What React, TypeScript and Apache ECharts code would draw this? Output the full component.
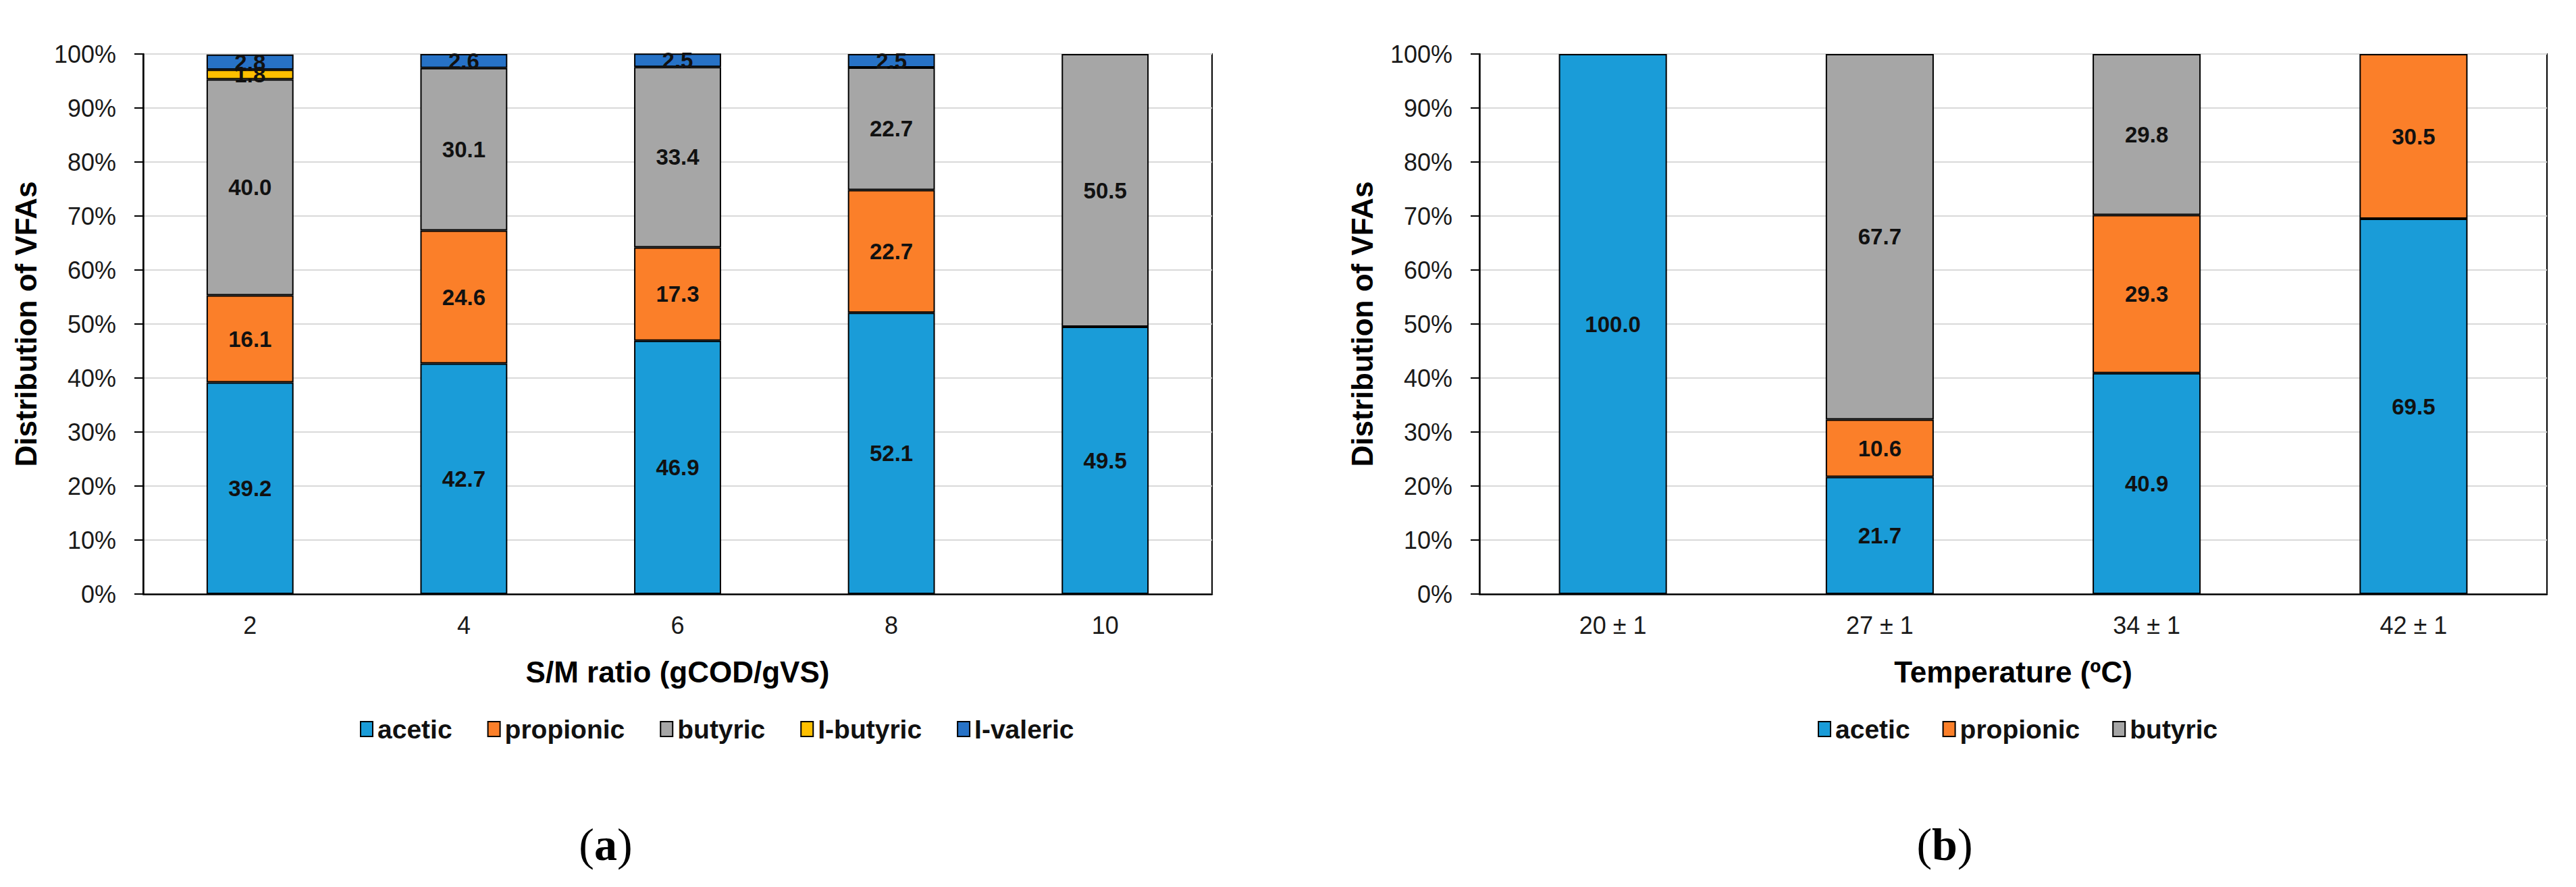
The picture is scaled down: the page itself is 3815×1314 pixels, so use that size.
import React, { useEffect, useRef } from "react";
import * as echarts from "echarts";

const categoriesA = ["2", "4", "6", "8", "10"];
const aceticA = [39.2, 42.7, 46.9, 52.1, 49.5];
const propionicA = [16.1, 24.6, 17.3, 22.7, 0];
const butyricA = [40.0, 30.1, 33.4, 22.7, 50.5];
const isoButyricA = [1.8, 0, 0, 0, 0];
const isoValericA = [2.8, 2.6, 2.5, 2.5, 0];

const categoriesB = ["20 ± 1", "27 ± 1", "34 ± 1", "42 ± 1"];
const aceticB = [100.0, 21.7, 40.9, 69.5];
const propionicB = [0, 10.6, 29.3, 30.5];
const butyricB = [0, 67.7, 29.8, 0];

const legendA = ["acetic", "propionic", "butyric", "I-butyric", "I-valeric"];
const legendB = ["acetic", "propionic", "butyric"];
const yTicks = [0, 10, 20, 30, 40, 50, 60, 70, 80, 90, 100];

const COLORS: Record<string, string> = {
  acetic: "#1A9CD8",
  propionic: "#FB7F29",
  butyric: "#A6A6A6",
  "I-butyric": "#FFC000",
  "I-valeric": "#2772C6",
};

const FONT = "'Liberation Sans', Arial, Helvetica, sans-serif";
const SERIF = "'Liberation Serif', 'DejaVu Serif', 'Times New Roman', serif";

function makeSeries(name: string, values: number[], axis: number, stack: string, barWidth: string) {
  return {
    type: "bar",
    name,
    stack,
    xAxisIndex: axis,
    yAxisIndex: axis,
    barWidth,
    data: values.map((v) => (v === 0 ? null : v)),
    itemStyle: { color: COLORS[name], borderColor: "#000", borderWidth: 2 },
    label: {
      show: true,
      position: "inside",
      formatter: (p: any) => (p.value == null ? "" : Number(p.value).toFixed(1)),
      fontSize: 33,
      fontWeight: "bold",
      fontFamily: FONT,
      color: "#111",
    },
  };
}

function yAxisDef(gridIndex: number) {
  return {
    type: "value",
    gridIndex,
    min: 0,
    max: 100,
    interval: 10,
    name: "Distribution of VFAs",
    nameLocation: "middle",
    nameGap: 152,
    nameTextStyle: { fontSize: 44, fontWeight: "bold", fontFamily: FONT, color: "#000" },
    axisLine: { show: true, lineStyle: { color: "#000", width: 2.5 } },
    axisTick: { show: true, inside: false, length: 13, lineStyle: { color: "#000", width: 2 } },
    axisLabel: {
      formatter: (v: number) => (yTicks.includes(v) ? `${v}%` : ""),
      fontSize: 36,
      fontFamily: FONT,
      color: "#1a1a1a",
      margin: 40,
    },
    splitLine: { show: true, lineStyle: { color: "#D9D9D9", width: 2 } },
  };
}

function xAxisDef(gridIndex: number, data: string[], name: string) {
  return {
    type: "category",
    gridIndex,
    data,
    name,
    nameLocation: "middle",
    nameGap: 93,
    nameTextStyle: { fontSize: 44, fontWeight: "bold", fontFamily: FONT, color: "#000" },
    axisLine: { show: true, lineStyle: { color: "#000", width: 2.5 } },
    axisTick: { show: false },
    axisLabel: { fontSize: 36, fontFamily: FONT, color: "#1a1a1a", margin: 28 },
    splitLine: { show: false },
  };
}

function legendDef(data: string[], left: number, gap: number) {
  return {
    data,
    left,
    top: 1058,
    orient: "horizontal",
    padding: 0,
    itemWidth: 18,
    itemHeight: 22,
    itemGap: gap,
    icon: "rect",
    selectedMode: false,
    itemStyle: { borderColor: "#000", borderWidth: 2 },
    textStyle: { fontSize: 39, fontWeight: "bold", fontFamily: FONT, color: "#111", lineHeight: 44, padding: [0, 0, 0, 2] },
  };
}

export default function App() {
  const ref = useRef<HTMLDivElement>(null);
  useEffect(() => {
    if (!ref.current) return;
    const chart = echarts.init(ref.current, undefined, { renderer: "svg" });
    const option: any = {
      animation: false,
      backgroundColor: "#fff",
      grid: [
        { left: 212, top: 80, width: 1583, height: 800, show: true, borderColor: "#000", borderWidth: 2, backgroundColor: "#fff" },
        { left: 2191, top: 80, width: 1581, height: 800, show: true, borderColor: "#000", borderWidth: 2, backgroundColor: "#fff" },
      ],
      xAxis: [xAxisDef(0, categoriesA, "S/M ratio (gCOD/gVS)"), xAxisDef(1, categoriesB, "Temperature (ºC)")],
      yAxis: [yAxisDef(0), yAxisDef(1)],
      legend: [legendDef(legendA, 533, 52), legendDef(legendB, 2692, 48)],
      series: [
        makeSeries("acetic", aceticA, 0, "a", "40.7%"),
        makeSeries("propionic", propionicA, 0, "a", "40.7%"),
        makeSeries("butyric", butyricA, 0, "a", "40.7%"),
        makeSeries("I-butyric", isoButyricA, 0, "a", "40.7%"),
        makeSeries("I-valeric", isoValericA, 0, "a", "40.7%"),
        makeSeries("acetic", aceticB, 1, "b", "40.5%"),
        makeSeries("propionic", propionicB, 1, "b", "40.5%"),
        makeSeries("butyric", butyricB, 1, "b", "40.5%"),
      ],
      graphic: [
        {
          type: "text",
          x: 897,
          y: 1251,
          style: {
            text: "{p|(}{b|a}{p|)}",
            align: "center",
            verticalAlign: "middle",
            rich: {
              p: { fontSize: 68, fontFamily: SERIF, fill: "#000" },
              b: { fontSize: 68, fontFamily: SERIF, fontWeight: "bold", fill: "#000" },
            },
          },
        },
        {
          type: "text",
          x: 2880,
          y: 1251,
          style: {
            text: "{p|(}{b|b}{p|)}",
            align: "center",
            verticalAlign: "middle",
            rich: {
              p: { fontSize: 68, fontFamily: SERIF, fill: "#000" },
              b: { fontSize: 68, fontFamily: SERIF, fontWeight: "bold", fill: "#000" },
            },
          },
        },
      ],
    };
    chart.setOption(option);
    return () => chart.dispose();
  }, []);
  return (
    <div
      ref={ref}
      style={{ position: "absolute", left: 0, top: 0, width: 3815, height: 1314, background: "#fff" }}
    />
  );
}
